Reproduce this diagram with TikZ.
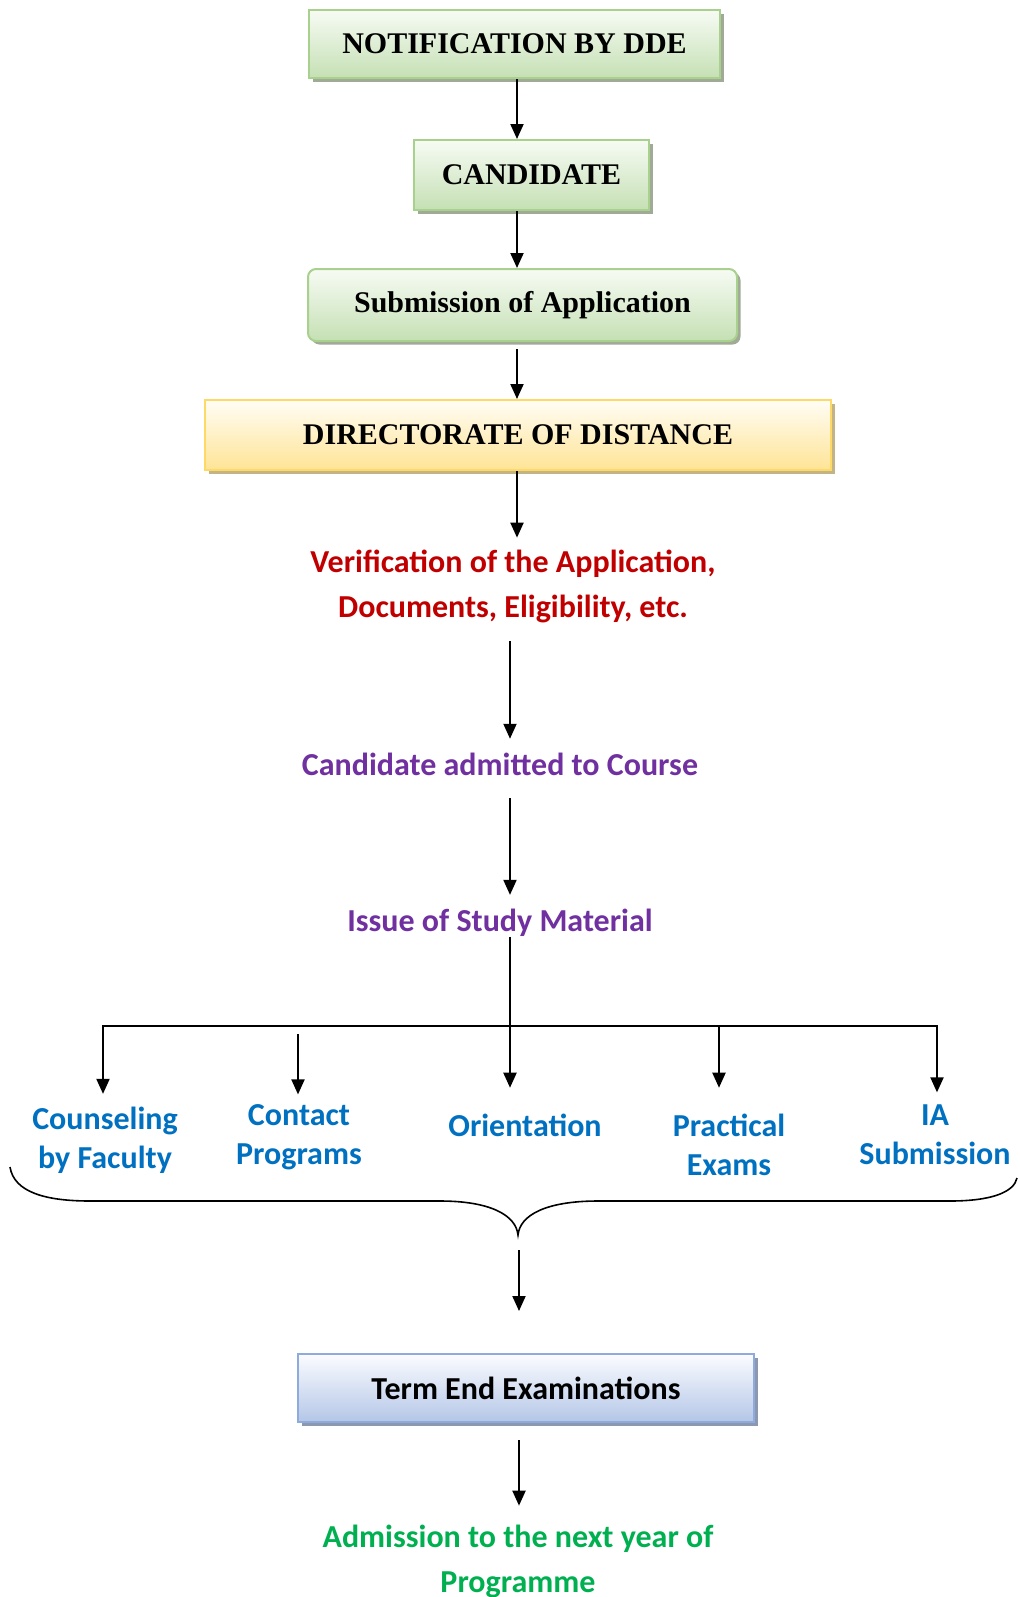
\documentclass[tikz,border=0pt]{standalone}
\usepackage{fontspec}
\setmainfont{Carlito}
\newfontfamily\camfont{Liberation Serif}
\usetikzlibrary{arrows.meta,shadows}

\definecolor{gbord}{RGB}{169,209,142}
\definecolor{gtop}{RGB}{247,251,244}
\definecolor{gbot}{RGB}{197,224,180}
\definecolor{gshad}{RGB}{160,170,150}
\definecolor{ybord}{RGB}{255,217,102}
\definecolor{ytop}{RGB}{255,253,245}
\definecolor{ybot}{RGB}{255,228,150}
\definecolor{yshad}{RGB}{195,180,135}
\definecolor{bbord}{RGB}{143,170,220}
\definecolor{btop}{RGB}{251,252,255}
\definecolor{bbot}{RGB}{180,198,231}
\definecolor{bshad}{RGB}{140,152,175}
\definecolor{tred}{RGB}{192,0,0}
\definecolor{tpurple}{RGB}{112,48,160}
\definecolor{tblue}{RGB}{0,112,192}
\definecolor{tgreen}{RGB}{0,176,80}

\begin{document}
\begin{tikzpicture}[x=0.5pt,y=-0.5pt,
  arr/.style={line width=1pt,-{Triangle[length=7.5pt,width=6.5pt]}},
  plain/.style={line width=1pt},
  boxbase/.style={line width=1pt,inner sep=0pt},
  serifbox/.style={boxbase,font=\camfont\bfseries\fontsize{15pt}{18pt}\selectfont},
  gbox/.style={serifbox,draw=gbord,top color=gtop,bottom color=gbot,
    drop shadow={shadow xshift=1.75pt,shadow yshift=-1.75pt,fill=gshad,opacity=1}},
  ybox/.style={serifbox,draw=ybord,top color=ytop,bottom color=ybot,
    drop shadow={shadow xshift=1.75pt,shadow yshift=-1.75pt,fill=yshad,opacity=1}},
  bbox/.style={boxbase,draw=bbord,top color=btop,bottom color=bbot,
    font=\bfseries\fontsize{16pt}{19pt}\selectfont,
    drop shadow={shadow xshift=1.75pt,shadow yshift=-1.75pt,fill=bshad,opacity=1}},
  stxt/.style={inner sep=0pt,align=center,font=\bfseries\fontsize{16pt}{22.5pt}\selectfont},
  btxt/.style={inner sep=0pt,align=center,text=tblue,font=\bfseries\fontsize{16pt}{19.5pt}\selectfont},
]
\useasboundingbox (0,0) rectangle (1019,1597);

% top boxes
\node[gbox,minimum width=205.5pt,minimum height=34pt] (b1) at (514.5,44) {NOTIFICATION BY DDE};
\node[gbox,minimum width=117.5pt,minimum height=35pt] (b2) at (531.5,175) {CANDIDATE};
\node[gbox,rounded corners=4pt,minimum width=214.5pt,minimum height=36pt] (b3) at (522.5,305) {Submission of Application};
\node[ybox,minimum width=313pt,minimum height=35pt] (b4) at (518,435) {DIRECTORATE OF DISTANCE};

\coordinate (ax) at (517,0);
\coordinate (cx) at (510,0);

\draw[arr] (b1.south -| ax) -- (b2.north -| ax);
\draw[arr] (b2.south -| ax) -- (b3.north -| ax);
\draw[arr,shorten <=3.5pt] (b3.south -| ax) -- (b4.north -| ax);

% text steps
\node[stxt,text=tred] (ver) at (513,586) {Verification of the Application,\\Documents, Eligibility, etc.};
\node[stxt,text=tpurple] (adm) at (500,764) {Candidate admitted to Course};
\node[stxt,text=tpurple] (iss) at (500,922.5) {Issue of Study Material};

\draw[arr,shorten >=5.75pt] (b4.south -| ax) -- (ver.north -| ax);
\draw[arr,shorten <=9.25pt,shorten >=6.75pt] (ver.south -| cx) -- (adm.north -| cx);
\draw[arr,shorten <=11.25pt,shorten >=6.75pt] (adm.south -| cx) -- (iss.north -| cx);

% branches
\coordinate (bL) at (103,1026);
\coordinate (bC2) at (298,1026);
\coordinate (bM) at (510,1026);
\coordinate (bC4) at (719,1026);
\coordinate (bR) at (937,1026);

\node[btxt] (c1) at (105,1140) {Counseling\\by Faculty};
\node[btxt] (c2) at (299,1137) {Contact\\Programs};
\node[btxt] (c3) at (525,1125) {Orientation};
\node[btxt] (c4) at (729,1144.5) {Practical\\Exams};
\node[btxt] (c5) at (935,1134.75) {IA\\Submission};

\draw[plain] (iss.south -| bM) -- (bM);
\draw[line width=1pt,{Triangle[length=7.5pt,width=6.5pt]}-{Triangle[length=7.5pt,width=6.5pt]},shorten <=6.25pt,shorten >=6pt]
  (c1.north -| bL) -- (bL) -- (bR) -- (c5.north -| bR);
\draw[arr,shorten <=4pt,shorten >=4.75pt] (bC2) -- (c2.north -| bC2);
\draw[arr,shorten >=12.75pt] (bM) -- (c3.north -| bM);
\draw[arr,shorten >=12.75pt] (bC4) -- (c4.north -| bC4);

% brace
\draw[line width=0.8pt] (10,1167) .. controls (14,1192) and (45,1201) .. (90,1201)
  -- (440,1201) .. controls (490,1201) and (516,1215) .. (518,1235)
  .. controls (520,1215) and (546,1201) .. (598,1201)
  -- (950,1201) .. controls (992,1201) and (1014,1192) .. (1017,1178);
\coordinate (tip) at (519,1237);

% term end
\node[bbox,minimum width=228pt,minimum height=34pt] (te) at (526,1388) {Term End Examinations};
\draw[arr,shorten <=6.5pt,shorten >=21pt] (tip) -- (te.north -| tip);

\node[stxt,text=tgreen] (nxt) at (518,1561) {Admission to the next year of\\Programme};
\draw[arr,shorten <=8.5pt,shorten >=9.25pt] (te.south -| tip) -- (nxt.north -| tip);
\end{tikzpicture}
\end{document}
